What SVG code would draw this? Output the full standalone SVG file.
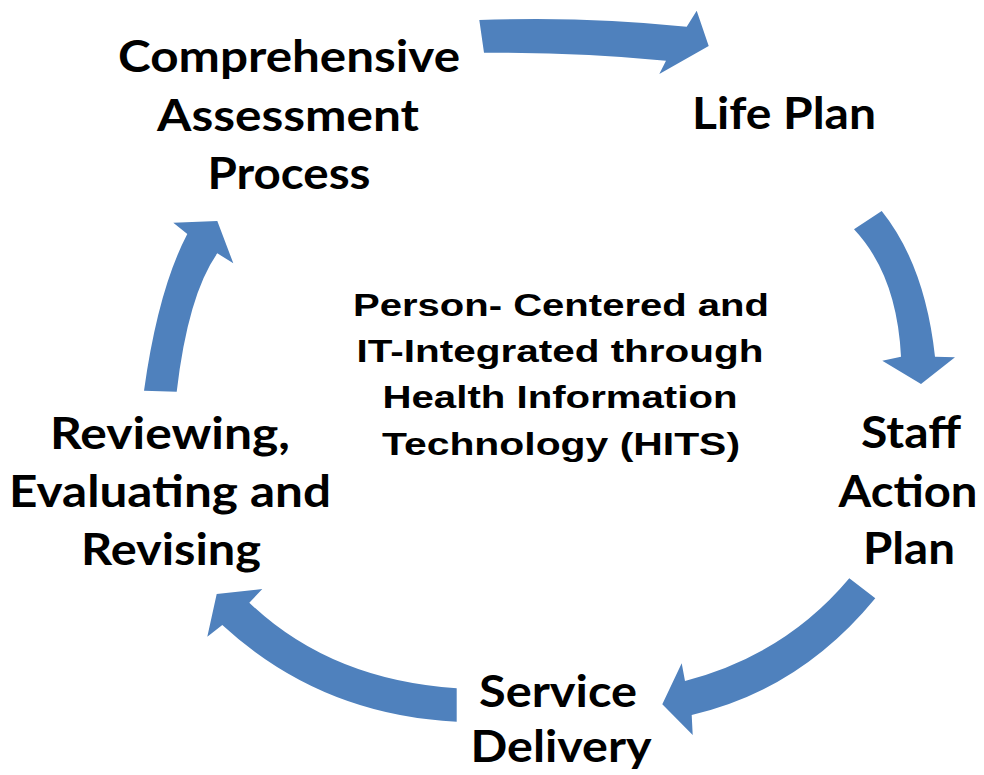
<svg xmlns="http://www.w3.org/2000/svg" width="984" height="775" viewBox="0 0 984 775">
<style>
.arrow{fill:#4F81BD;stroke:none}
.lbl{font-family:Lato,"Open Sans","Liberation Sans",sans-serif;font-weight:700;font-size:44px;fill:#000;text-anchor:middle}
.ctr{font-family:"Liberation Sans",Arial,sans-serif;font-weight:700;font-size:31px;fill:#000;text-anchor:middle}
</style>
<rect width="984" height="775" fill="#fff"/>
<g id="connectors">
<path class="arrow" d="M479.3,20 Q585,16 686.7,26.7 L696.7,10.7 L708.7,46 L659.3,74 L666,60.7 Q580,52 484,52.7 Z"/>
<path class="arrow" d="M881.7,211 Q925,265 935,356.7 L955,357.3 L921,384 L882.3,360.7 L901,356.7 Q897,275 854,229.3 Z"/>
<path class="arrow" d="M849.3,578.3 L875.3,598.3 Q800,690 691.7,715 L692.7,735 L662.3,704.3 L681.7,663.3 L685,681 Q785,655 849.3,578.3 Z"/>
<path class="arrow" d="M456.7,688.3 Q330,680 249.3,602.7 L262.3,589 L216.7,594 L207.3,636.7 L222.3,625 Q320,715 456.7,721.7 Z"/>
<path class="arrow" d="M144,390.7 L176.7,391.7 Q188,295 217.3,253.3 L233.3,263.3 L217.3,221 L173.3,222.7 L187.3,234 Q158,290 144,390.7 Z"/>
</g>
<g id="assessment">
<text class="lbl" x="289" y="72" textLength="342" lengthAdjust="spacingAndGlyphs">Comprehensive</text>
<text class="lbl" x="288" y="131" textLength="262" lengthAdjust="spacingAndGlyphs">Assessment</text>
<text class="lbl" x="289" y="189" textLength="163" lengthAdjust="spacingAndGlyphs">Process</text>
</g>
<g id="lifeplan">
<text class="lbl" x="784" y="129" textLength="184" lengthAdjust="spacingAndGlyphs">Life Plan</text>
</g>
<g id="staffaction">
<text class="lbl" x="911" y="448" textLength="100" lengthAdjust="spacingAndGlyphs">Staff</text>
<text class="lbl" x="908" y="507" textLength="139" lengthAdjust="spacingAndGlyphs">Action</text>
<text class="lbl" x="909" y="564" textLength="92" lengthAdjust="spacingAndGlyphs">Plan</text>
</g>
<g id="service">
<text class="lbl" x="558" y="707" textLength="158" lengthAdjust="spacingAndGlyphs">Service</text>
<text class="lbl" x="561" y="762" textLength="181" lengthAdjust="spacingAndGlyphs">Delivery</text>
</g>
<g id="reviewing">
<text class="lbl" x="170" y="449" textLength="240" lengthAdjust="spacingAndGlyphs">Reviewing,</text>
<text class="lbl" x="170" y="507" textLength="322" lengthAdjust="spacingAndGlyphs">Evaluating and</text>
<text class="lbl" x="171" y="565" textLength="180" lengthAdjust="spacingAndGlyphs">Revising</text>
</g>
<g id="center">
<text class="ctr" x="561" y="316" textLength="416" lengthAdjust="spacingAndGlyphs">Person- Centered and</text>
<text class="ctr" x="560" y="362" textLength="407" lengthAdjust="spacingAndGlyphs">IT-Integrated through</text>
<text class="ctr" x="560" y="408" textLength="355" lengthAdjust="spacingAndGlyphs">Health Information</text>
<text class="ctr" x="561" y="455" textLength="358" lengthAdjust="spacingAndGlyphs">Technology (HITS)</text>
</g>
</svg>
